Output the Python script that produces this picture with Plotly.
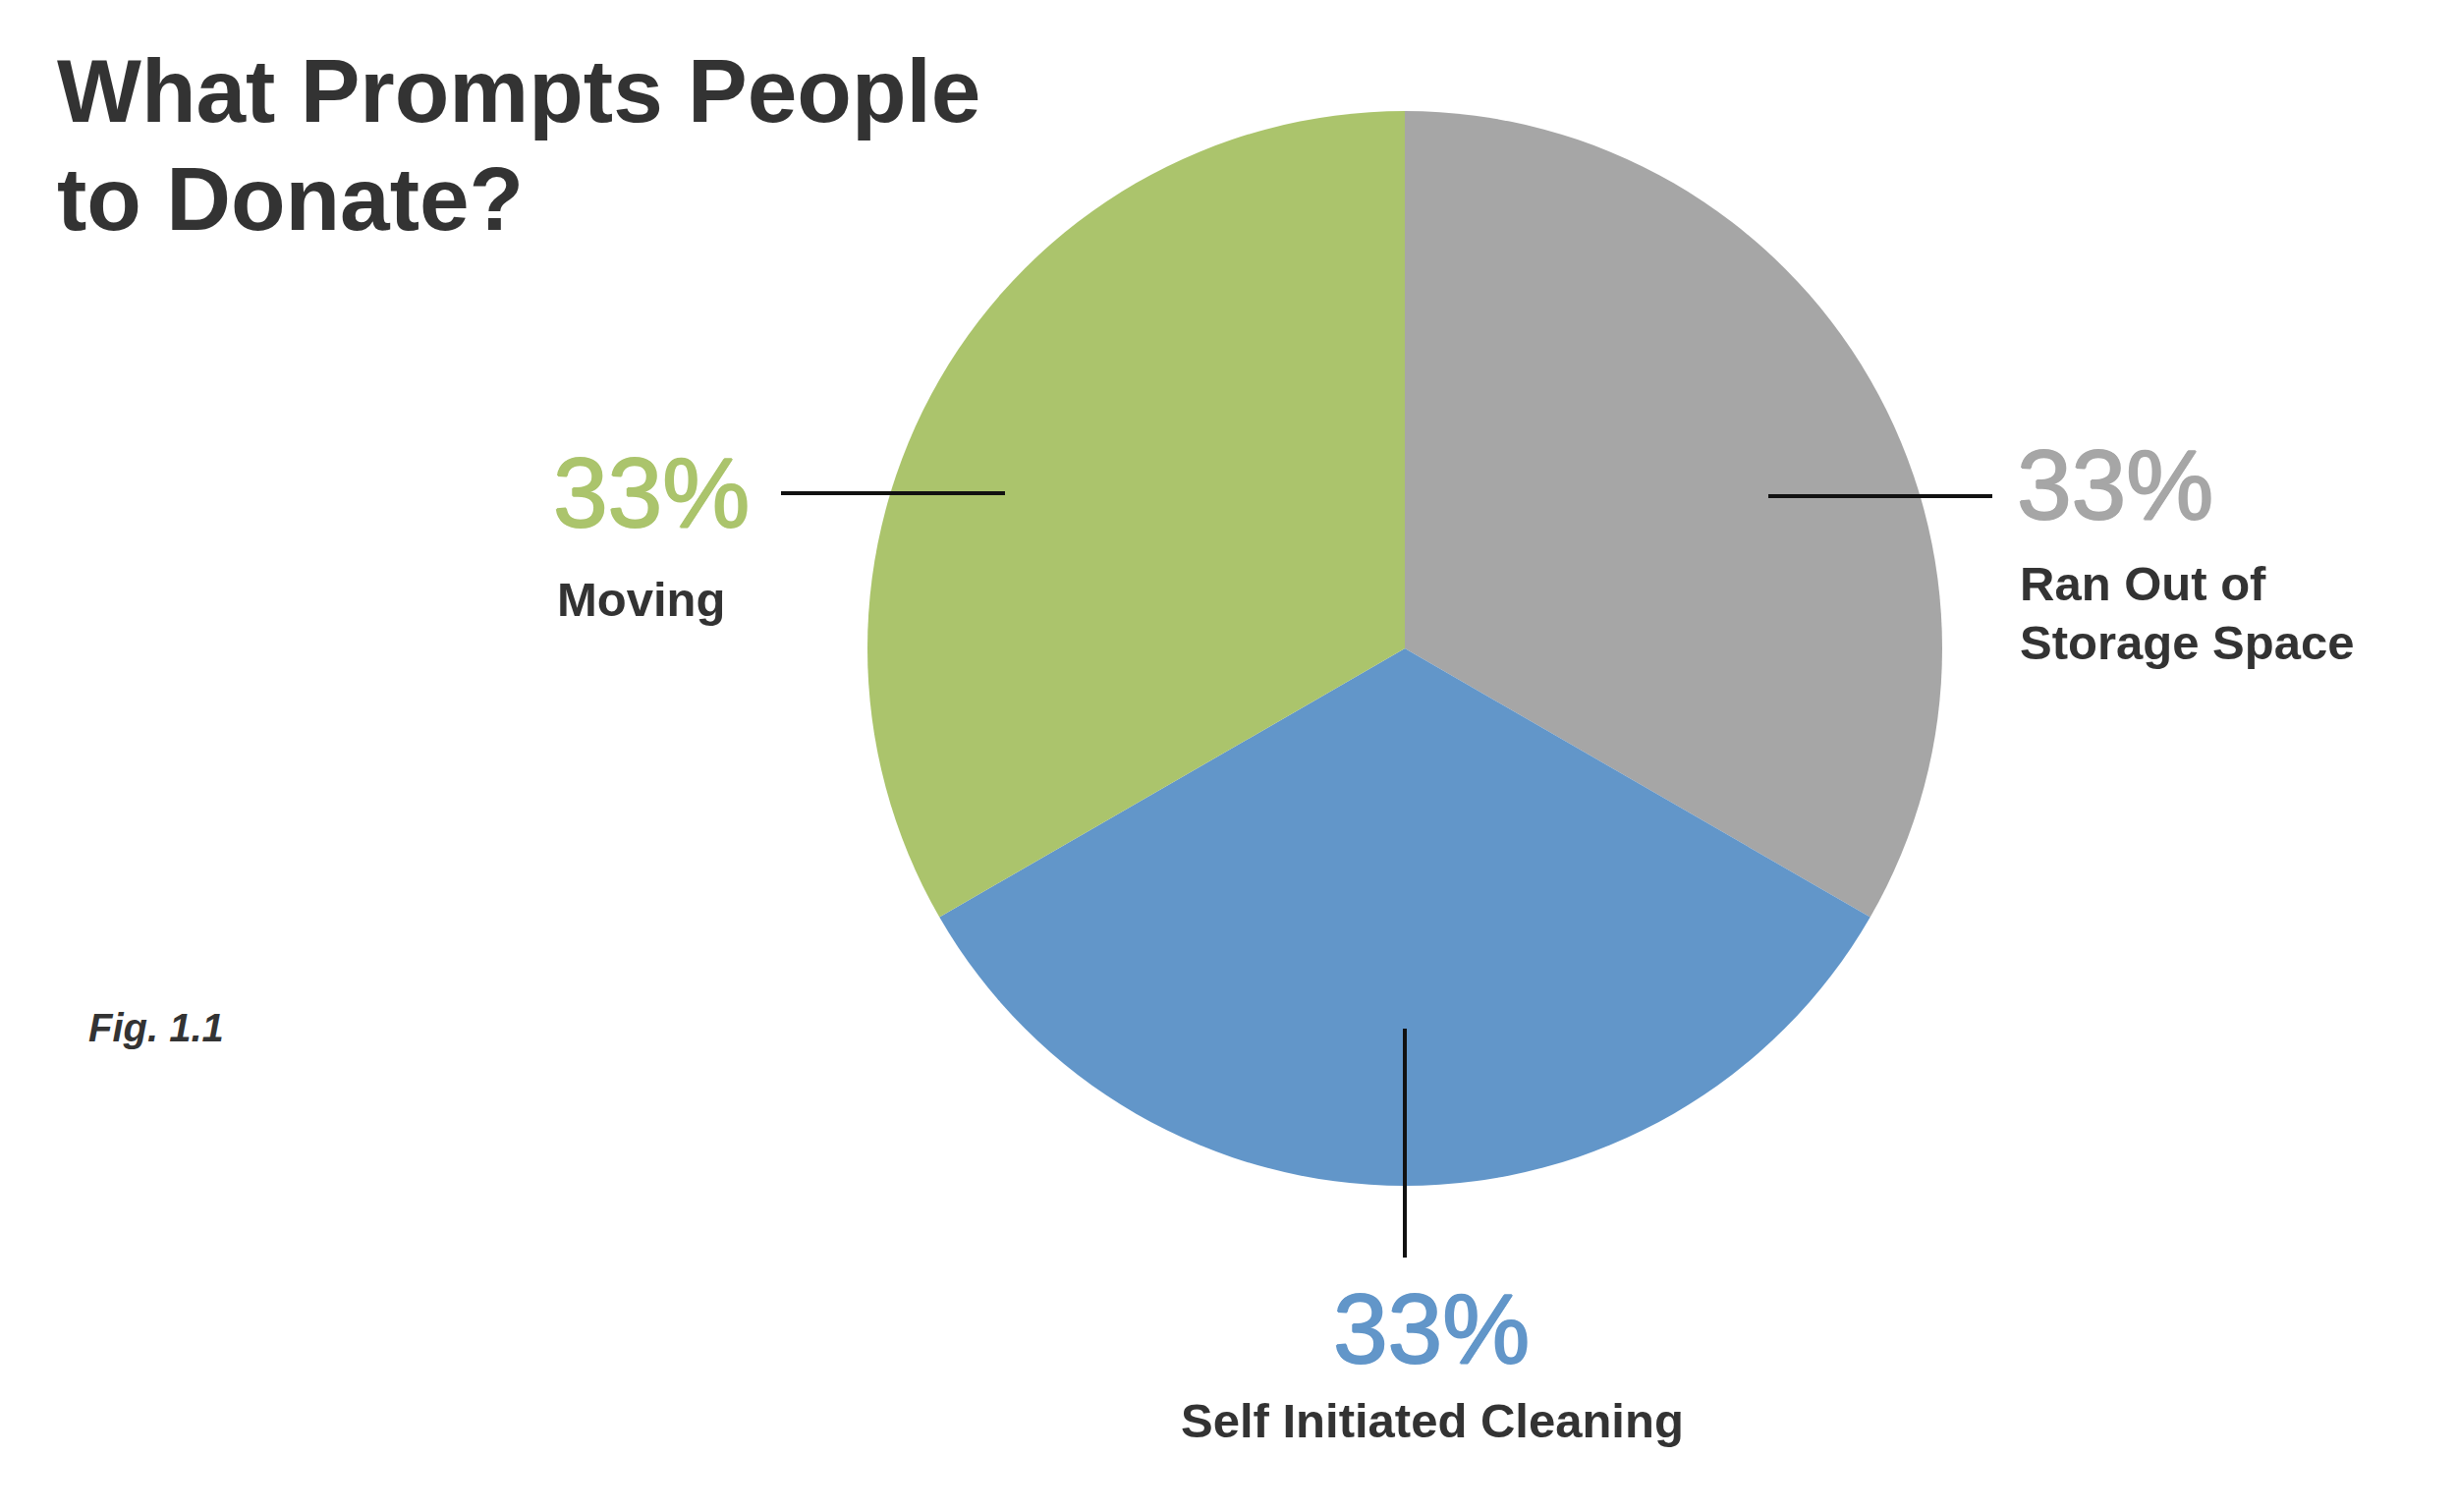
import plotly.graph_objects as go

W, H = 2500, 1539
PAGE_MARGIN = 8  # browser default body margin
FW, FH = W - 2 * PAGE_MARGIN, H - 2 * PAGE_MARGIN

# ---- data ----
categories = ["Ran Out of Storage Space", "Self Initiated Cleaning", "Moving"]
values = [1, 1, 1]
colors = ["#A6A6A6", "#6296C9", "#ABC46C"]
label_lines = [["Ran Out of", "Storage Space"], ["Self Initiated Cleaning"], ["Moving"]]
title_lines = ["What Prompts People", "to Donate?"]
fig_note = "Fig. 1.1"

total = sum(values)
pct_text = [f"{round(v / total * 100)}%" for v in values]

FONT = "Liberation Sans, Arial, Helvetica, sans-serif"
DARK = "#333333"

def px(x):
    return (x - PAGE_MARGIN) / FW

def py(y):
    return 1 - (y - PAGE_MARGIN) / FH

# pie geometry (pixels)
cx, cy, r = 1430, 660, 547

fig = go.Figure(go.Pie(
    labels=categories,
    values=values,
    marker=dict(colors=colors, line=dict(width=0)),
    sort=False,
    direction="clockwise",
    rotation=0,
    textinfo="none",
    hoverinfo="label+percent",
    showlegend=False,
    domain=dict(x=[px(cx - r), px(cx + r)], y=[py(cy + r), py(cy - r)]),
))

annotations = []

def add_text(text, x, baseline, size, color, anchor="left", bold=True, italic=False,
             shadow=None):
    t = text
    if bold:
        t = f"<b>{t}</b>"
    if italic:
        t = f"<i>{t}</i>"
    font = dict(family=FONT, size=size, color=color)
    if shadow:
        font["shadow"] = shadow
    annotations.append(dict(
        text=t, x=px(x), y=py(baseline - 0.347 * size), xref="paper", yref="paper",
        xanchor=anchor, yanchor="middle", showarrow=False, font=font,
    ))

# title
for i, line in enumerate(title_lines):
    add_text(line, 56, 124 + i * 110, 91, DARK)

# label positions (layout constants)
pct_pos = [(2051, 528, "left"), (1457, 1387, "center"), (561, 536, "left")]
name_pos = [(2054, 611, "left"), (1458, 1463, "center"), (565, 627, "left")]
for i in range(len(categories)):
    x, b, a = pct_pos[i]
    c = colors[i]
    heavier = f"1px 0px 0px {c}, -1px 0px 0px {c}, 0px 1px 0px {c}, 0px -1px 0px {c}"
    add_text(pct_text[i], x, b, 100, c, anchor=a, bold=False, shadow=heavier)
    x, b, a = name_pos[i]
    for j, line in enumerate(label_lines[i]):
        add_text(line, x, b + j * 60, 49, DARK, anchor=a)

add_text(fig_note, 88, 1060, 40, DARK, italic=True)

# leader lines
leaders = [((1800, 505), (2028, 505)), ((1430, 1047), (1430, 1280)), ((795, 502), (1023, 502))]
shapes = []
for (x0, y0), (x1, y1) in leaders:
    shapes.append(dict(type="line", xref="paper", yref="paper",
                       x0=px(x0), y0=py(y0), x1=px(x1), y1=py(y1),
                       line=dict(color="#111111", width=4)))

fig.update_layout(
    width=FW, height=FH,
    margin=dict(l=0, r=0, t=0, b=0),
    paper_bgcolor="white", plot_bgcolor="white",
    annotations=annotations, shapes=shapes,
)

fig.write_html("out.html", config={"displayModeBar": False})
